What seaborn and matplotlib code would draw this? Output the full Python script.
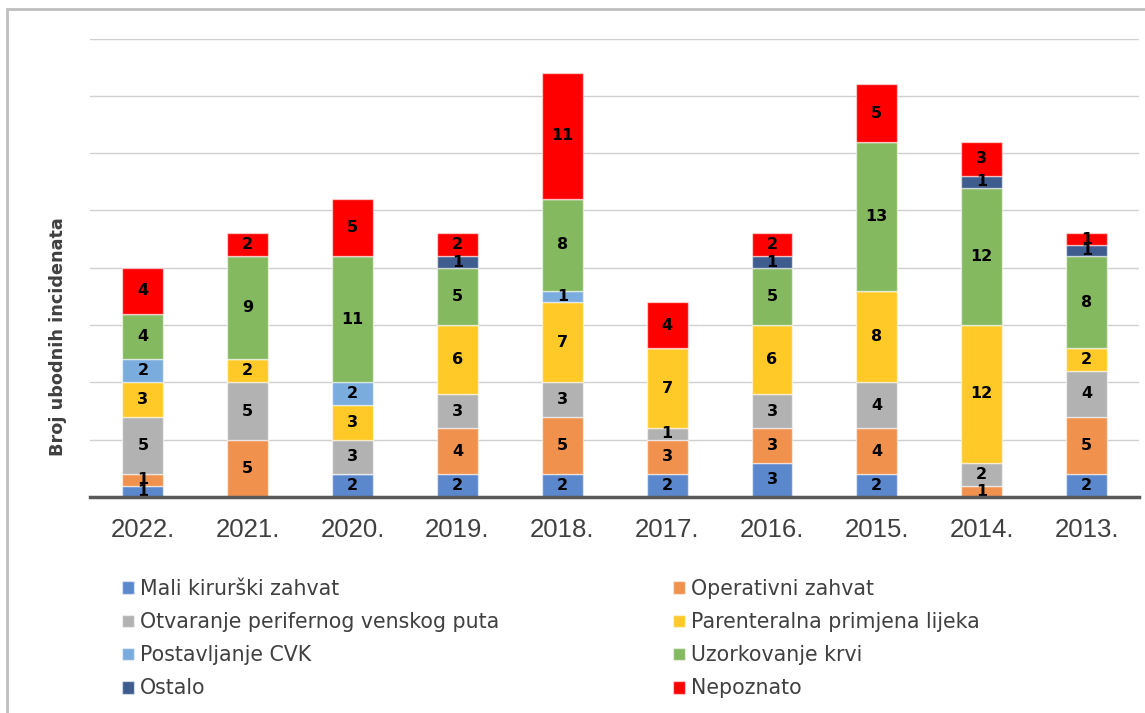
import matplotlib
matplotlib.use("Agg")
import matplotlib.pyplot as plt
import seaborn as sns
import pandas as pd
from matplotlib.patches import Patch, Rectangle

years = ["2022.", "2021.", "2020.", "2019.", "2018.", "2017.", "2016.", "2015.", "2014.", "2013."]
categories = ["Mali kirurški zahvat", "Operativni zahvat", "Otvaranje perifernog venskog puta",
              "Parenteralna primjena lijeka", "Postavljanje CVK", "Uzorkovanje krvi",
              "Ostalo", "Nepoznato"]
mali = [1, 0, 2, 2, 2, 2, 3, 2, 0, 2]
operativni = [1, 5, 0, 4, 5, 3, 3, 4, 1, 5]
otvaranje = [5, 5, 3, 3, 3, 1, 3, 4, 2, 4]
parenteralna = [3, 2, 3, 6, 7, 7, 6, 8, 12, 2]
cvk = [2, 0, 2, 0, 1, 0, 0, 0, 0, 0]
uzorkovanje = [4, 9, 11, 5, 8, 0, 5, 13, 12, 8]
ostalo = [0, 0, 0, 1, 0, 0, 1, 0, 1, 1]
nepoznato = [4, 2, 5, 2, 11, 4, 2, 5, 3, 1]
colors = ["#5B87CD", "#F0924E", "#B2B2B2", "#FFCA28", "#7AACDE", "#85B960", "#3E5C8E", "#FF0000"]

series = [mali, operativni, otvaranje, parenteralna, cvk, uzorkovanje, ostalo, nepoznato]
rows = []
for cat, vals in zip(categories, series):
    for y, v in zip(years, vals):
        rows.append({"year": y, "category": cat, "value": v})
df = pd.DataFrame(rows)

sns.set_theme(style="white")
plt.rcParams["font.family"] = ["Liberation Sans", "DejaVu Sans"]

fig = plt.figure(figsize=(11.45, 7.13), dpi=100)
ax = fig.add_axes([0.0790, 0.3029, 0.9157, 0.6431])

palette = dict(zip(categories, colors))
sns.histplot(data=df, x="year", hue="category", weights="value", multiple="stack",
             discrete=True, shrink=0.39, hue_order=categories[::-1], palette=palette,
             edgecolor=(1, 1, 1, 0.55), linewidth=1, alpha=1, legend=False, ax=ax, zorder=2)

for p in list(ax.patches):
    h = p.get_height()
    if h > 0.5:
        ax.text(p.get_x() + p.get_width() / 2, p.get_y() + h / 2, f"{int(round(h))}",
                ha="center", va="center", fontsize=11.5, fontweight="bold",
                family=["DejaVu Sans"], color="black", zorder=4)

ax.set_xlim(-0.5, 9.5)
ax.set_ylim(0, 40)
ax.set_yticks(range(0, 41, 5))
ax.set_yticklabels([])
ax.set_xticks(range(len(years)))
ax.set_xticklabels(years)
ax.tick_params(axis="x", length=0, pad=15, labelsize=18.5, labelcolor="#404040")
ax.tick_params(axis="y", length=0)
ax.yaxis.grid(True, color="#D0D0D0", linewidth=1)
ax.xaxis.grid(False)
ax.set_axisbelow(True)
for s in ["top", "right", "left"]:
    ax.spines[s].set_visible(False)
ax.spines["bottom"].set_color("#595959")
ax.spines["bottom"].set_linewidth(2.5)
ax.spines["bottom"].set_zorder(5)
ax.set_xlabel("")
ax.set_ylabel("")

fig.text(58 / 1145, 1 - 337 / 713, "Broj ubodnih incidenata", rotation=90, ha="center", va="center",
         fontsize=12.7, fontweight="bold", color="#404040", family=["DejaVu Sans"])

def handles(idx):
    return [Patch(facecolor=colors[i], edgecolor=(1, 1, 1, 0.5), label=categories[i]) for i in idx]

leg_kw = dict(frameon=False, borderpad=0, borderaxespad=0,
              prop={"family": "DejaVu Sans", "size": 14.8}, labelcolor="#404040",
              handlelength=0.58, handleheight=0.58, handletextpad=0.29, labelspacing=0.64,
              loc="upper left")
fig.legend(handles=handles([0, 2, 4, 6]), bbox_to_anchor=(122 / 1145, 1 - 579 / 713), **leg_kw)
fig.legend(handles=handles([1, 3, 5, 7]), bbox_to_anchor=(673 / 1145, 1 - 579 / 713), **leg_kw)

fig.patches.append(Rectangle((7 / 1145, -0.1), 2, 1 - 9 / 713 + 0.1, transform=fig.transFigure,
                             fill=False, edgecolor="#BFBFBF", linewidth=2))

fig.savefig("out.png", dpi=100)
